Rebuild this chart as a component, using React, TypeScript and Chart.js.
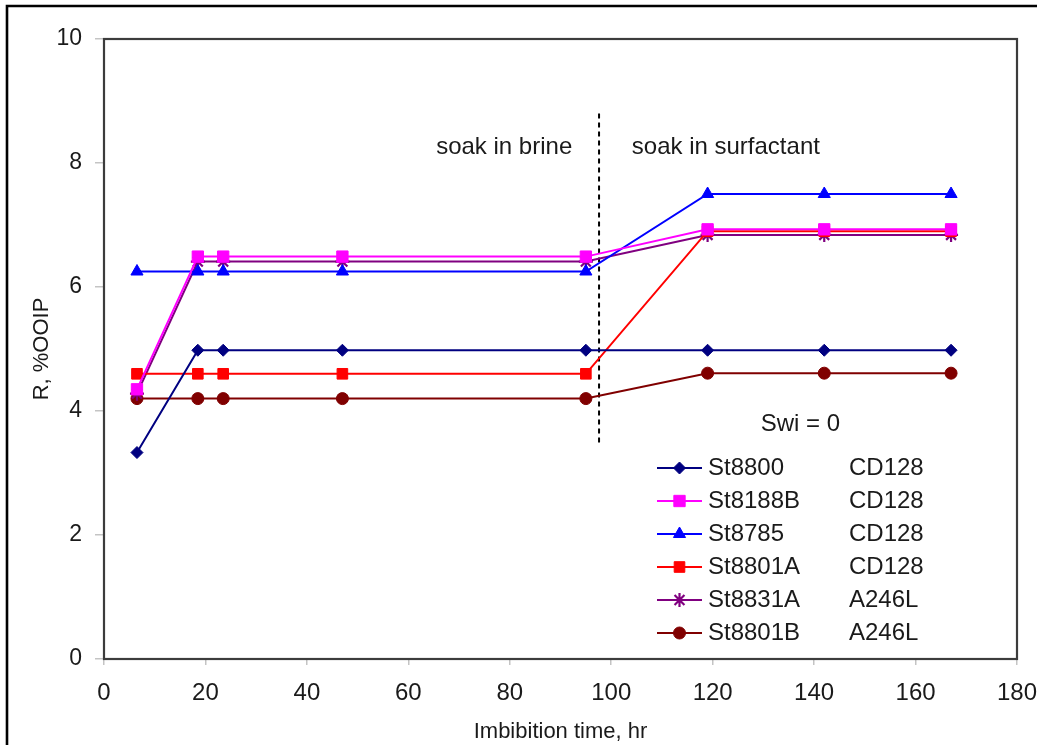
import React, { useEffect, useRef } from "react";
import { Chart, registerables } from "chart.js";
import { drawPoint } from "chart.js/helpers";

Chart.register(...registerables);

// Imbibition time (hr) at each measurement
const hours = [6.5, 18.5, 23.5, 47, 95, 119, 142, 167];

// Oil recovery R (%OOIP) per core
const st8800 = [3.33, 4.98, 4.98, 4.98, 4.98, 4.98, 4.98, 4.98];
const st8188B = [4.35, 6.49, 6.49, 6.49, 6.49, 6.93, 6.93, 6.93];
const st8785 = [6.25, 6.25, 6.25, 6.25, 6.25, 7.5, 7.5, 7.5];
const st8801A = [4.6, 4.6, 4.6, 4.6, 4.6, 6.9, 6.9, 6.9];
const st8831A = [4.28, 6.41, 6.41, 6.41, 6.41, 6.84, 6.84, 6.84];
const st8801B = [4.2, 4.2, 4.2, 4.2, 4.2, 4.61, 4.61, 4.61];

const coreNames = ["St8800", "St8188B", "St8785", "St8801A", "St8831A", "St8801B"];
const surfactants = ["CD128", "CD128", "CD128", "CD128", "A246L", "A246L"];
const recoveries = [st8800, st8188B, st8785, st8801A, st8831A, st8801B];

// Axis ranges and tick steps
const xRange = [0, 180];
const xStep = 20;
const yRange = [0, 10];
const yStep = 2;

// Brine -> surfactant switch marker and annotations (data units)
const switchHour = 97.6;
const switchSpan = [3.48, 8.8];
const phaseTexts = ["soak in brine", "soak in surfactant"];
const phaseX = [78.9, 122.6];
const phaseY = 8.26;
const noteText = "Swi = 0";
const noteX = 137.3;
const noteY = 3.78;

const FONT = "'Liberation Sans', Arial, sans-serif";
const TEXT = "#1a1a1a";

const seriesStyles = [
  { color: "#000080", pointStyle: "rectRot", radius: 6 },
  { color: "#FF00FF", pointStyle: "rect", radius: 8 },
  { color: "#0000FF", pointStyle: "triangle", radius: 7 },
  { color: "#FF0000", pointStyle: "rect", radius: 7.5 },
  { color: "#800080", pointStyle: "star", radius: 7 },
  { color: "#800000", pointStyle: "circle", radius: 6 },
];

const decorPlugin = {
  id: "decor",
  beforeDraw(chart: any) {
    const { ctx, width, height } = chart;
    ctx.save();
    ctx.fillStyle = "#ffffff";
    ctx.fillRect(0, 0, width, height);
    // outer frame (top and left edges)
    ctx.strokeStyle = "#000000";
    ctx.lineWidth = 2.6;
    ctx.beginPath();
    ctx.moveTo(7, height);
    ctx.lineTo(7, 6);
    ctx.lineTo(1037, 6);
    ctx.stroke();
    ctx.restore();
  },
  beforeDatasetsDraw(chart: any) {
    const { ctx, chartArea: a, scales } = chart;
    ctx.save();
    // plot area box
    ctx.strokeStyle = "#3c3c3c";
    ctx.lineWidth = 2.2;
    ctx.strokeRect(a.left, a.top, a.right - a.left, a.bottom - a.top);
    // switch divider
    const sx = scales.x.getPixelForValue(switchHour);
    ctx.strokeStyle = "#000000";
    ctx.lineWidth = 2;
    ctx.setLineDash([5, 4]);
    ctx.beginPath();
    ctx.moveTo(sx, scales.y.getPixelForValue(switchSpan[1]));
    ctx.lineTo(sx, scales.y.getPixelForValue(switchSpan[0]));
    ctx.stroke();
    ctx.setLineDash([]);
    // annotations
    ctx.fillStyle = TEXT;
    ctx.font = `24px ${FONT}`;
    ctx.textAlign = "center";
    ctx.textBaseline = "middle";
    phaseTexts.forEach((t, i) => {
      ctx.fillText(t, scales.x.getPixelForValue(phaseX[i]), scales.y.getPixelForValue(phaseY));
    });
    ctx.fillText(noteText, scales.x.getPixelForValue(noteX), scales.y.getPixelForValue(noteY));
    ctx.restore();
  },
  afterDatasetsDraw(chart: any) {
    const { ctx } = chart;
    const lineStart = 657;
    const lineEnd = 702;
    const nameX = 708;
    const fluidX = 849;
    const firstRow = 468;
    const rowGap = 33;
    ctx.save();
    chart.data.datasets.forEach((ds: any, i: number) => {
      const y = firstRow + i * rowGap;
      ctx.strokeStyle = ds.borderColor;
      ctx.lineWidth = ds.borderWidth;
      ctx.beginPath();
      ctx.moveTo(lineStart, y);
      ctx.lineTo(lineEnd, y);
      ctx.stroke();
      ctx.fillStyle = ds.pointBackgroundColor;
      ctx.strokeStyle = ds.pointBorderColor;
      ctx.lineWidth = ds.pointBorderWidth;
      drawPoint(
        ctx,
        { pointStyle: ds.pointStyle, radius: ds.pointRadius, rotation: 0, borderWidth: ds.pointBorderWidth },
        (lineStart + lineEnd) / 2,
        y
      );
      ctx.fillStyle = TEXT;
      ctx.font = `24px ${FONT}`;
      ctx.textAlign = "left";
      ctx.textBaseline = "middle";
      ctx.fillText(coreNames[i], nameX, y);
      ctx.fillText(surfactants[i], fluidX, y);
    });
    ctx.restore();
  },
};

export default function App() {
  const canvasRef = useRef<HTMLCanvasElement | null>(null);

  useEffect(() => {
    const canvas = canvasRef.current;
    if (!canvas) return;

    const datasets = recoveries.map((vals, i) => {
      const s = seriesStyles[i];
      return {
        label: coreNames[i],
        data: hours.map((h, j) => ({ x: h, y: vals[j] })),
        borderColor: s.color,
        backgroundColor: s.color,
        borderWidth: 2,
        pointStyle: s.pointStyle,
        pointRadius: s.radius,
        pointHoverRadius: s.radius,
        pointBackgroundColor: s.color,
        pointBorderColor: s.color,
        pointBorderWidth: s.pointStyle === "star" ? 2.2 : 1,
        tension: 0,
        fill: false,
      };
    });

    const chart = new Chart(canvas, {
      type: "line",
      data: { datasets },
      plugins: [decorPlugin],
      options: {
        animation: false,
        responsive: false,
        events: [],
        layout: { padding: { left: 0, top: 39, right: 30, bottom: 0 } },
        plugins: {
          legend: { display: false },
          tooltip: { enabled: false },
        },
        scales: {
          x: {
            type: "linear",
            min: xRange[0],
            max: xRange[1],
            ticks: {
              stepSize: xStep,
              maxRotation: 0,
              autoSkip: false,
              padding: 14,
              color: TEXT,
              font: { family: FONT, size: 24 },
            },
            grid: {
              drawOnChartArea: false,
              drawTicks: true,
              tickLength: 6,
              color: "#c4c4c4",
              lineWidth: 1.5,
            },
            border: { display: false },
            title: {
              display: true,
              text: "Imbibition time, hr",
              color: TEXT,
              font: { family: FONT, size: 22 },
              padding: { top: 0, bottom: 0 },
            },
            afterFit: (s: any) => {
              s.height = 86;
              s.paddingLeft = 0;
              s.paddingRight = 0;
            },
          },
          y: {
            type: "linear",
            min: yRange[0],
            max: yRange[1],
            ticks: {
              stepSize: yStep,
              padding: 13,
              color: TEXT,
              font: { family: FONT, size: 23 },
            },
            grid: {
              drawOnChartArea: false,
              drawTicks: true,
              tickLength: 9,
              color: "#c4c4c4",
              lineWidth: 1.5,
            },
            border: { display: false },
            title: {
              display: true,
              text: "R, %OOIP",
              color: TEXT,
              font: { family: FONT, size: 22 },
              padding: { top: 29, bottom: 0 },
            },
            afterFit: (s: any) => {
              s.width = 104;
            },
          },
        },
      } as any,
    });

    return () => chart.destroy();
  }, []);

  return (
    <div style={{ position: "absolute", left: 0, top: 0, width: 1047, height: 745, background: "#fff" }}>
      <canvas ref={canvasRef} width={1047} height={745} style={{ display: "block" }} />
    </div>
  );
}
